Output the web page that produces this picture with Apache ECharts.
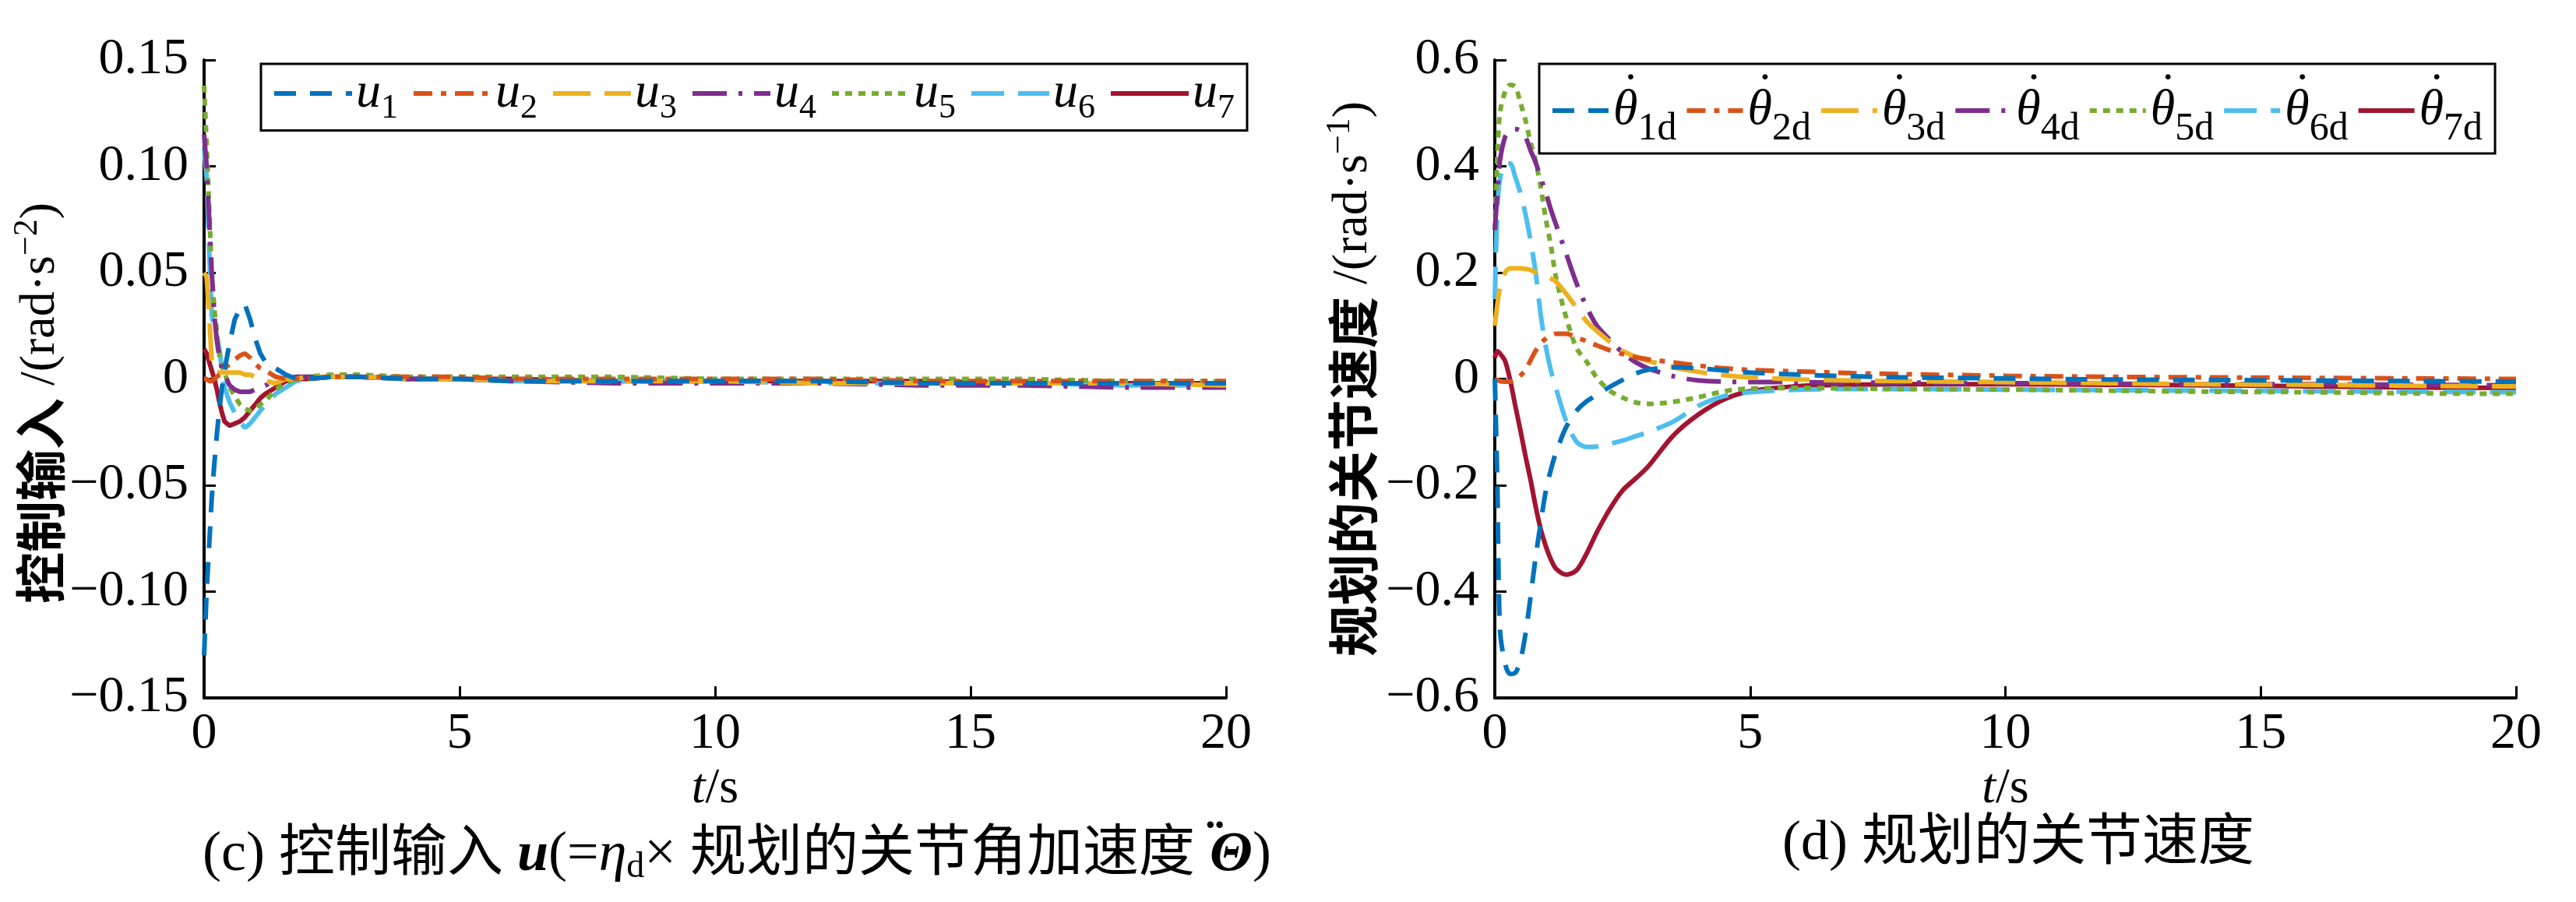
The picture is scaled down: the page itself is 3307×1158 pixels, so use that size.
<!DOCTYPE html>
<html>
<head>
<meta charset="utf-8">
<script src="https://cdn.jsdelivr.net/npm/echarts@6/dist/echarts.min.js"></script>
<style>
  html, body { margin: 0; padding: 0; background: #fff; }
  #main { width: 3307px; height: 1158px; }
</style>
</head>
<body>
<div id="main"></div>
<script>
// (c) 控制输入 u
const tC = [0, 0.05, 0.1, 0.15, 0.2, 0.25, 0.3, 0.35, 0.4, 0.5, 0.6, 0.7, 0.8, 0.9, 1.0, 1.1, 1.2, 1.4, 1.6, 1.8, 2.0, 2.5, 3, 4, 5, 6, 8, 10, 12, 14, 16, 18, 20];
const u1 = [-0.13, -0.10, -0.078, -0.056, -0.04, -0.026, -0.014, -0.004, 0.004, 0.017, 0.028, 0.033, 0.035, 0.028, 0.019, 0.012, 0.008, 0.005, 0.002, 0.0, 0.0, 0.001, 0.001, 0.0, 0.0, -0.001, -0.001, -0.001, -0.001, -0.002, -0.002, -0.002, -0.002];
const u2 = [0.0, 0.0, -0.001, -0.001, 0.0, 0.001, 0.002, 0.003, 0.005, 0.007, 0.009, 0.011, 0.012, 0.010, 0.007, 0.005, 0.004, 0.001, 0.0, 0.0, 0.0, 0.001, 0.001, 0.001, 0.001, 0.0, 0.0, 0.0, 0.0, -0.001, -0.001, -0.001, -0.001];
const u3 = [0.05, 0.048, 0.03, 0.008, 0.004, 0.003, 0.003, 0.003, 0.003, 0.003, 0.003, 0.003, 0.002, 0.002, 0.001, 0.0, -0.001, -0.002, 0.0, 0.0, 0.001, 0.001, 0.001, 0.0, 0.0, -0.001, -0.001, -0.001, -0.002, -0.002, -0.002, -0.002, -0.003];
const u4 = [0.115, 0.10, 0.075, 0.05, 0.03, 0.018, 0.01, 0.005, 0.002, -0.003, -0.005, -0.006, -0.006, -0.006, -0.005, -0.004, -0.003, -0.001, 0.0, 0.001, 0.001, 0.001, 0.001, 0.0, 0.0, -0.001, -0.002, -0.002, -0.002, -0.003, -0.003, -0.004, -0.004];
const u5 = [0.138, 0.11, 0.08, 0.05, 0.033, 0.022, 0.011, 0.006, 0.003, -0.004, -0.008, -0.012, -0.014, -0.015, -0.014, -0.012, -0.0105, -0.005, -0.002, 0.0, 0.001, 0.002, 0.002, 0.001, 0.001, 0.001, 0.001, 0.0, 0.0, 0.0, 0.0, -0.001, -0.001];
const u6 = [0.108, 0.095, 0.06, 0.03, 0.024, 0.02, 0.014, 0.004, -0.004, -0.011, -0.016, -0.02, -0.023, -0.021, -0.018, -0.015, -0.012, -0.007, -0.004, -0.001, 0.0, 0.001, 0.001, 0.0, 0.0, -0.001, -0.001, -0.001, -0.002, -0.002, -0.002, -0.003, -0.003];
const u7 = [0.014, 0.012, 0.008, 0.004, 0.0, -0.005, -0.011, -0.016, -0.020, -0.022, -0.021, -0.020, -0.018, -0.015, -0.012, -0.009, -0.007, -0.004, -0.001, 0.0, 0.0, 0.001, 0.001, 0.0, 0.0, 0.0, -0.001, -0.001, -0.001, -0.001, -0.002, -0.002, -0.002];

// (d) 规划的关节速度
const tD = [0, 0.05, 0.1, 0.2, 0.3, 0.4, 0.5, 0.6, 0.7, 0.8, 0.9, 1.0, 1.1, 1.2, 1.4, 1.6, 1.8, 2.0, 2.25, 2.5, 2.75, 3.0, 3.5, 4.0, 4.5, 5, 6, 7, 8, 10, 12, 14, 16, 18, 20];
const w1 = [0.0, -0.2, -0.47, -0.535, -0.555, -0.553, -0.53, -0.48, -0.41, -0.335, -0.27, -0.21, -0.17, -0.138, -0.09, -0.06, -0.042, -0.03, -0.015, -0.002, 0.01, 0.017, 0.022, 0.02, 0.016, 0.012, 0.008, 0.005, 0.003, 0.001, -0.001, -0.002, -0.003, -0.004, -0.005];
const w2 = [0.0, -0.002, -0.004, -0.005, -0.005, -0.002, 0.006, 0.017, 0.035, 0.053, 0.067, 0.076, 0.082, 0.085, 0.085, 0.078, 0.071, 0.063, 0.054, 0.047, 0.041, 0.037, 0.031, 0.025, 0.02, 0.017, 0.014, 0.011, 0.009, 0.006, 0.004, 0.003, 0.002, 0.001, 0.0];
const w3 = [0.1, 0.14, 0.17, 0.2, 0.208, 0.208, 0.208, 0.207, 0.205, 0.2, 0.197, 0.193, 0.189, 0.183, 0.16, 0.134, 0.108, 0.09, 0.07, 0.053, 0.042, 0.034, 0.022, 0.013, 0.007, 0.003, -0.001, -0.003, -0.004, -0.006, -0.008, -0.01, -0.011, -0.013, -0.014];
const w4 = [0.28, 0.35, 0.41, 0.455, 0.468, 0.47, 0.467, 0.455, 0.43, 0.407, 0.378, 0.35, 0.318, 0.29, 0.235, 0.18, 0.135, 0.1, 0.074, 0.05, 0.032, 0.02, 0.005, -0.003, -0.005, -0.006, -0.006, -0.007, -0.007, -0.008, -0.009, -0.01, -0.01, -0.011, -0.012];
const w5 = [0.28, 0.42, 0.5, 0.54, 0.553, 0.55, 0.52, 0.487, 0.445, 0.41, 0.36, 0.30, 0.25, 0.19, 0.115, 0.058, 0.032, 0.002, -0.022, -0.035, -0.044, -0.047, -0.043, -0.034, -0.023, -0.018, -0.017, -0.018, -0.019, -0.02, -0.022, -0.024, -0.025, -0.027, -0.028];
const w6 = [0.15, 0.32, 0.375, 0.405, 0.405, 0.38, 0.35, 0.31, 0.26, 0.2, 0.12, 0.06, 0.015, -0.018, -0.08, -0.118, -0.128, -0.127, -0.122, -0.116, -0.108, -0.1, -0.08, -0.05, -0.032, -0.025, -0.02, -0.019, -0.019, -0.02, -0.021, -0.022, -0.023, -0.024, -0.025];
const w7 = [0.04, 0.052, 0.048, 0.034, -0.002, -0.05, -0.096, -0.145, -0.19, -0.24, -0.283, -0.315, -0.34, -0.357, -0.368, -0.36, -0.328, -0.288, -0.245, -0.21, -0.188, -0.165, -0.106, -0.066, -0.038, -0.023, -0.013, -0.011, -0.01, -0.01, -0.011, -0.012, -0.014, -0.016, -0.017];

const namesC = ['u1', 'u2', 'u3', 'u4', 'u5', 'u6', 'u7'];
const namesD = ['θ1d', 'θ2d', 'θ3d', 'θ4d', 'θ5d', 'θ6d', 'θ7d'];
const xTicks = [0, 5, 10, 15, 20];

// MATLAB 默认配色和线型
const colors = ['#0072BD', '#D95319', '#EDB120', '#7E2F8E', '#77AC30', '#4DBEEE', '#A2142F'];
const dashes = [[28, 18], [24, 11, 7, 11], [48, 18], [44, 15, 5, 15], [9, 8], [42, 18], 'solid'];

const serif = 'Liberation Serif';
const cjk = 'Liberation Serif, Noto Sans CJK SC';

function minusFmt(digits) {
  return function (v) {
    if (Math.abs(v) < 1e-9) return '0';
    return (v < 0 ? '\u2212' : '') + Math.abs(v).toFixed(digits);
  };
}

function makeSeries(names, t, arrs, idx) {
  return names.map(function (n, i) {
    return {
      name: n,
      type: 'line',
      xAxisIndex: idx,
      yAxisIndex: idx,
      symbol: 'none',
      smooth: idx === 1 ? 0.3 : false,
      data: t.map(function (x, k) { return [x, arrs[i][k]]; }),
      lineStyle: { color: colors[i], width: 6, type: dashes[i] },
      itemStyle: { color: colors[i] },
      z: 10 - i
    };
  });
}

function xAxisCfg(idx) {
  return {
    type: 'value',
    gridIndex: idx,
    min: 0, max: 20, interval: 5,
    name: '{i|t}{n|/s}',
    nameLocation: 'middle',
    nameGap: 58,
    nameTextStyle: {
      fontSize: 64,
      rich: {
        i: { fontFamily: serif, fontSize: 64, fontStyle: 'italic', color: '#000' },
        n: { fontFamily: serif, fontSize: 64, color: '#000' }
      }
    },
    axisLine: { show: true, onZero: false, lineStyle: { color: '#000', width: 4 } },
    axisTick: { show: true, inside: true, length: 15, lineStyle: { color: '#000', width: 3 } },
    axisLabel: { fontFamily: serif, fontSize: 66, color: '#000', margin: 14,
      formatter: function (v) { return xTicks.indexOf(v) >= 0 ? String(v) : ''; } },
    splitLine: { show: false }
  };
}

function yAxisCfg(idx, min, max, step, digits, nameStr, gap, shift) {
  return {
    type: 'value',
    gridIndex: idx,
    min: min, max: max, interval: step,
    name: nameStr,
    nameLocation: 'middle',
    nameRotate: 90,
    nameGap: gap,
    nameTextStyle: {
      fontSize: 64,
      padding: [0, shift, 0, 0],
      rich: {
        c: { fontFamily: 'Noto Sans CJK SC', fontSize: 66, fontWeight: 'bold', color: '#000' },
        r: { fontFamily: serif, fontSize: 64, color: '#000' },
        p: { fontFamily: serif, fontSize: 44, color: '#000', padding: [0, 0, 34, 0] }
      }
    },
    axisLine: { show: true, onZero: false, lineStyle: { color: '#000', width: 4 } },
    axisTick: { show: true, inside: true, length: 15, lineStyle: { color: '#000', width: 3 } },
    axisLabel: { fontFamily: serif, fontSize: 66, color: '#000', margin: 20, formatter: minusFmt(digits) },
    splitLine: { show: false }
  };
}

function legendCfg(names, left, fmt, rich, itemWidth, itemGap) {
  return {
    data: names,
    left: left,
    top: 82,
    width: 1400,
    orient: 'horizontal',
    backgroundColor: '#fff',
    borderColor: '#000',
    borderWidth: 3,
    borderRadius: 0,
    padding: [6, 16, 6, 14],
    itemWidth: itemWidth,
    itemHeight: 30,
    itemGap: itemGap,
    itemStyle: { opacity: 0 },
    lineStyle: { width: 6 },
    formatter: fmt,
    textStyle: { rich: rich }
  };
}

const chart = echarts.init(document.getElementById('main'));

chart.setOption({
  backgroundColor: '#fff',
  animation: false,
  title: [
    {
      text: '{n|(c) 控制输入 }{b|u}{n|(=}{i|η}{s|d}{n|× 规划的关节角加速度 }{dd|\u2009¨}{b|Θ}{n|)}',
      left: 941, top: 1043, textAlign: 'center',
      textStyle: {
        fontWeight: 'normal',
        rich: {
          n: { fontFamily: cjk, fontSize: 72, fontWeight: 'normal', color: '#000' },
          b: { fontFamily: serif, fontSize: 72, fontStyle: 'italic', fontWeight: 'bold', color: '#000' },
          dd: { fontFamily: serif, fontSize: 72, fontWeight: 'bold', color: '#000',
                width: 1, align: 'left', padding: [0, 0, 28, 0] },
          i: { fontFamily: serif, fontSize: 72, fontStyle: 'italic', fontWeight: 'normal', color: '#000' },
          s: { fontFamily: serif, fontSize: 46, fontWeight: 'normal', color: '#000', padding: [32, 0, 0, 0] }
        }
      }
    },
    {
      text: '(d) 规划的关节速度',
      left: 2586, top: 1043, textAlign: 'center',
      textStyle: { fontFamily: cjk, fontSize: 72, fontWeight: 'normal', color: '#000' }
    }
  ],
  legend: [
    legendCfg(namesC, 335, function (n) { return '{i|u}{s|' + n.slice(1) + '}'; }, {
      i: { fontFamily: serif, fontSize: 64, fontStyle: 'italic', color: '#000' },
      s: { fontFamily: serif, fontSize: 44, color: '#000', padding: [39, 0, 0, 0] }
    }, 100, 17),
    legendCfg(namesD, 1976, function (n) { return '{d|\u2009˙}{i|θ}{s|' + n.slice(1) + '}'; }, {
      d: { fontFamily: serif, fontSize: 64, color: '#000', width: 1, align: 'left', padding: [0, 0, 44, 0] },
      i: { fontFamily: serif, fontSize: 64, fontStyle: 'italic', color: '#000' },
      s: { fontFamily: serif, fontSize: 50, color: '#000', padding: [48, 0, 0, 0] }
    }, 72, 10)
  ],
  grid: [
    { left: 262, top: 77, width: 1312, height: 819, show: false },
    { left: 1919, top: 77, width: 1311, height: 819, show: false }
  ],
  xAxis: [xAxisCfg(0), xAxisCfg(1)],
  yAxis: [
    yAxisCfg(0, -0.15, 0.15, 0.05, 2, '{c|控制输入}{r| /(rad·s}{p|\u22122}{r|)}', 170, 62),
    yAxisCfg(1, -0.6, 0.6, 0.2, 1, '{c|规划的关节速度}{r| /(rad·s}{p|\u22121}{r|)}', 143, 0)
  ],
  series: makeSeries(namesC, tC, [u1, u2, u3, u4, u5, u6, u7], 0)
    .concat(makeSeries(namesD, tD, [w1, w2, w3, w4, w5, w6, w7], 1))
});
</script>
</body>
</html>
